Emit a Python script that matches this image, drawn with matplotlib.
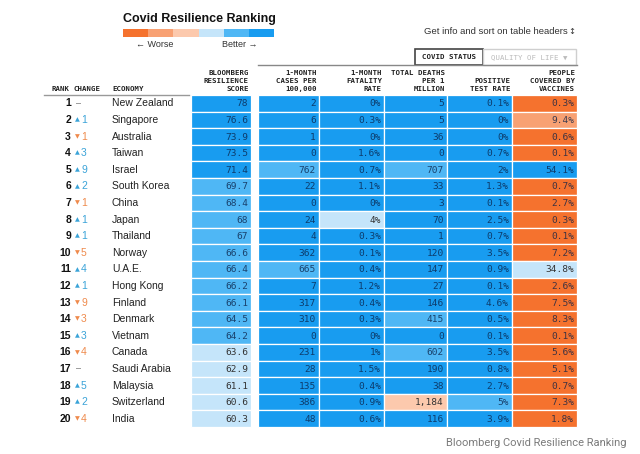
import matplotlib
matplotlib.use("Agg")
import matplotlib.pyplot as plt
from matplotlib.patches import Rectangle

# ---- data ----
economies = ["New Zealand", "Singapore", "Australia", "Taiwan", "Israel",
             "South Korea", "China", "Japan", "Thailand", "Norway",
             "U.A.E.", "Hong Kong", "Finland", "Denmark", "Vietnam",
             "Canada", "Saudi Arabia", "Malaysia", "Switzerland", "India"]
rank_change = [0, 1, -1, 3, 9, 2, -1, 1, 1, -5, 4, 1, -9, -3, 3, -4, 0, 5, 2, -4]
score = [78, 76.6, 73.9, 73.5, 71.4, 69.7, 68.4, 68, 67, 66.6,
         66.4, 66.2, 66.1, 64.5, 64.2, 63.6, 62.9, 61.1, 60.6, 60.3]
cases = [2, 6, 1, 0, 762, 22, 0, 24, 4, 362, 665, 7, 317, 310, 0, 231, 28, 135, 386, 48]
fatality = [0, 0.3, 0, 1.6, 0.7, 1.1, 0, 4, 0.3, 0.1, 0.4, 1.2, 0.4, 0.3, 0, 1, 1.5, 0.4, 0.9, 0.6]
deaths = [5, 5, 36, 0, 707, 33, 3, 70, 1, 120, 147, 27, 146, 415, 0, 602, 190, 38, 1184, 116]
test_rate = [0.1, 0, 0, 0.7, 2, 1.3, 0.1, 2.5, 0.7, 3.5, 0.9, 0.1, 4.6, 0.5, 0.1, 3.5, 0.8, 2.7, 5, 3.9]
vaccines = [0.3, 9.4, 0.6, 0.1, 54.1, 0.7, 2.7, 0.3, 0.1, 7.2, 34.8, 2.6, 7.5, 8.3, 0.1, 5.6, 5.1, 0.7, 7.3, 1.8]

# rating bucket per cell, 0 = worst ... 5 = best
score_lvl = [5] * 5 + [4] * 10 + [3] * 5
cases_lvl = [5, 5, 5, 5, 4, 5, 5, 5, 5, 5, 4, 5, 5, 5, 5, 5, 5, 5, 5, 5]
fatality_lvl = [5, 5, 5, 5, 5, 5, 5, 3, 5, 5, 5, 5, 5, 5, 5, 5, 5, 5, 5, 5]
deaths_lvl = [5, 5, 5, 5, 4, 5, 5, 5, 5, 5, 5, 5, 5, 4, 5, 4, 5, 5, 2, 5]
test_lvl = [5] * 18 + [4, 5]
vacc_lvl = [0, 1, 0, 0, 5, 0, 0, 0, 0, 0, 3, 0, 0, 0, 0, 0, 0, 0, 0, 0]

headers = ["BLOOMBERG\nRESILIENCE\nSCORE", "1-MONTH\nCASES PER\n100,000",
           "1-MONTH\nFATALITY\nRATE", "TOTAL DEATHS\nPER 1\nMILLION",
           "POSITIVE\nTEST RATE", "PEOPLE\nCOVERED BY\nVACCINES"]

palette = ["#f5722e", "#f8a173", "#fcc9ad", "#c5e5fa", "#4fb7f5", "#189cf0"]


def fmt_num(v):
    return f"{v:,g}"


def fmt_pct(v):
    return f"{v:g}%"


columns = [
    (score, score_lvl, fmt_num),
    (cases, cases_lvl, fmt_num),
    (fatality, fatality_lvl, fmt_pct),
    (deaths, deaths_lvl, fmt_num),
    (test_rate, test_lvl, fmt_pct),
    (vaccines, vacc_lvl, fmt_pct),
]
col_left = [191, 258, 319, 384, 447, 512]
col_right = [251, 319, 384, 447, 512, 577]

fig = plt.figure(figsize=(6.4, 4.54), dpi=100)
ax = fig.add_axes([0, 0, 1, 1])
ax.set_xlim(0, 640)
ax.set_ylim(454, 0)
ax.axis("off")

mono = "DejaVu Sans Mono"
sans = "Liberation Sans"

# title + legend bar
ax.text(123, 19, "Covid Resilience Ranking", fontsize=9, fontweight="bold",
        family=sans, va="center", ha="left", color="#111")
seg_w = (274 - 123) / len(palette)
for k, c in enumerate(palette):
    ax.add_patch(Rectangle((123 + k * seg_w, 29), seg_w, 8, color=c, lw=0))
ax.text(136, 44.5, "\u2190 Worse", fontsize=6.5, family=["Liberation Sans", "DejaVu Sans"],
        va="center", ha="left", color="#333")
ax.text(257, 44.5, "Better \u2192", fontsize=6.5, family=["Liberation Sans", "DejaVu Sans"],
        va="center", ha="right", color="#333")

ax.text(568, 32, "Get info and sort on table headers", fontsize=6.8, family=sans,
        va="center", ha="right", color="#333")
ax.text(575, 32, "\u2195", fontsize=6, family="DejaVu Sans", va="center", ha="right",
        color="#333")

# tab buttons
ax.plot([258, 577], [65, 65], color="#888", lw=1)
ax.add_patch(Rectangle((415, 49), 68, 16, fill=False, ec="#444", lw=1.2))
ax.text(449, 57, "COVID STATUS", fontsize=5.3, family=mono, fontweight="bold",
        va="center", ha="center", color="#222")
ax.add_patch(Rectangle((483, 49), 93, 16, fill=False, ec="#cfcfcf", lw=1))
ax.text(529.5, 57, "QUALITY OF LIFE \u25bc", fontsize=5.3, family=mono,
        va="center", ha="center", color="#bbbbbb")

# column headers
ax.text(69, 89, "RANK", fontsize=5.3, family=mono, fontweight="bold",
        ha="right", va="center", color="#222")
ax.text(73, 89, "CHANGE", fontsize=5.3, family=mono, fontweight="bold",
        ha="left", va="center", color="#222")
ax.text(112, 89, "ECONOMY", fontsize=5.3, family=mono, fontweight="bold",
        ha="left", va="center", color="#222")
ax.plot([44, 189], [94.5, 94.5], color="#999", lw=1)
for h, r in zip(headers, col_right):
    lines = h.split("\n")
    for j, line in enumerate(reversed(lines)):
        ax.text(r - 2, 89 - 8 * j, line, fontsize=5.3, family=mono,
                fontweight="bold", ha="right", va="center", color="#222")

# table body
row_top = 95
row_h = (427 - 95) / len(economies)
for i, name in enumerate(economies):
    y0 = row_top + i * row_h
    yc = y0 + row_h / 2
    ax.text(71, yc, str(i + 1), fontsize=7.5, fontweight="bold", family=sans,
            ha="right", va="center", color="#111")
    ch = rank_change[i]
    if ch == 0:
        ax.text(76, yc, "\u2013", fontsize=6.5, family=sans, ha="left",
                va="center", color="#666")
    else:
        c = "#3aa3d8" if ch > 0 else "#ef8a4c"
        tri = "\u25b2" if ch > 0 else "\u25bc"
        ax.text(75, yc, tri, fontsize=4.5, family="DejaVu Sans", ha="left",
                va="center", color=c)
        ax.text(81, yc, str(abs(ch)), fontsize=7.5, family=sans, ha="left",
                va="center", color=c)
    ax.text(112, yc, name, fontsize=7.5, family=sans, ha="left", va="center",
            color="#222")
    for (vals, lvls, f), xl, xr in zip(columns, col_left, col_right):
        lvl = lvls[i]
        ax.add_patch(Rectangle((xl, y0), xr - xl, row_h, facecolor=palette[lvl],
                               edgecolor="white", lw=0.9))
        tc = "#333333" if lvl in (2, 3) else (0.04, 0.13, 0.28, 0.78)
        ax.text(xr - 3, yc + 0.5, f(vals[i]), fontsize=6.8, family=mono,
                ha="right", va="center", color=tc)

ax.text(627, 443, "Bloomberg Covid Resilience Ranking", fontsize=8,
        family="Roboto", ha="right", va="center", color="#7a7a7a")

fig.savefig("out.png", dpi=100)
